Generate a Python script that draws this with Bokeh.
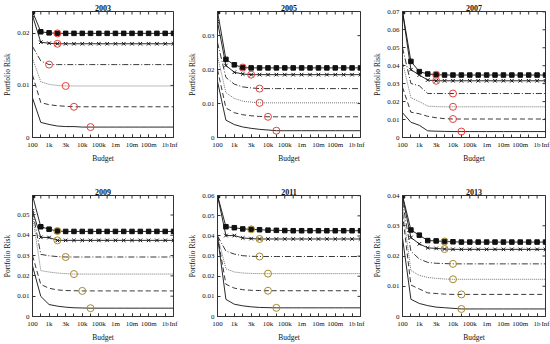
import math
from bokeh.plotting import figure
from bokeh.layouts import column, row
from bokeh.models import Range1d, FixedTicker
from bokeh.embed import file_html
from bokeh.resources import INLINE

# ---------------- data ----------------
budget_labels = ["100", "", "1k", "", "3k", "", "10k", "", "100k", "", "1m", "", "10m", "", "100m", "", "1b", "Inf"]
years = ["2003", "2005", "2007", "2009", "2011", "2013"]

r2003_a = [0.0242, 0.0203, 0.0201, 0.0200, 0.0200, 0.0200, 0.0200, 0.0200, 0.0200, 0.0200, 0.0200, 0.0200, 0.0200, 0.0200, 0.0200, 0.0200, 0.0200, 0.0200]
r2003_b = [0.0234, 0.0183, 0.0181, 0.0180, 0.0180, 0.0180, 0.0180, 0.0180, 0.0180, 0.0180, 0.0180, 0.0180, 0.0180, 0.0180, 0.0180, 0.0180, 0.0180, 0.0180]
r2003_c = [0.0175, 0.0147, 0.0140, 0.0140, 0.0140, 0.0140, 0.0140, 0.0140, 0.0140, 0.0140, 0.0140, 0.0140, 0.0140, 0.0140, 0.0140, 0.0140, 0.0140, 0.0140]
r2003_d = [0.0152, 0.0107, 0.0102, 0.0100, 0.0099, 0.0099, 0.0099, 0.0099, 0.0099, 0.0099, 0.0099, 0.0099, 0.0099, 0.0099, 0.0099, 0.0099, 0.0099, 0.0099]
r2003_e = [0.0120, 0.0067, 0.0063, 0.0061, 0.0060, 0.0059, 0.0059, 0.0059, 0.0059, 0.0059, 0.0059, 0.0059, 0.0059, 0.0059, 0.0059, 0.0059, 0.0059, 0.0059]
r2003_f = [0.0076, 0.0029, 0.0025, 0.0022, 0.0021, 0.0021, 0.0020, 0.0020, 0.0020, 0.0020, 0.0020, 0.0020, 0.0020, 0.0020, 0.0020, 0.0020, 0.0020, 0.0020]

r2005_a = [0.0371, 0.0230, 0.0214, 0.0206, 0.0205, 0.0205, 0.0205, 0.0205, 0.0205, 0.0205, 0.0205, 0.0205, 0.0205, 0.0205, 0.0205, 0.0205, 0.0205, 0.0205]
r2005_b = [0.0341, 0.0212, 0.0192, 0.0187, 0.0185, 0.0185, 0.0185, 0.0185, 0.0185, 0.0185, 0.0185, 0.0185, 0.0185, 0.0185, 0.0185, 0.0185, 0.0185, 0.0185]
r2005_c = [0.0280, 0.0177, 0.0157, 0.0149, 0.0146, 0.0144, 0.0144, 0.0144, 0.0144, 0.0144, 0.0144, 0.0144, 0.0144, 0.0144, 0.0144, 0.0144, 0.0144, 0.0144]
r2005_d = [0.0240, 0.0132, 0.0115, 0.0107, 0.0104, 0.0102, 0.0102, 0.0102, 0.0102, 0.0102, 0.0102, 0.0102, 0.0102, 0.0102, 0.0102, 0.0102, 0.0102, 0.0102]
r2005_e = [0.0200, 0.0087, 0.0073, 0.0067, 0.0064, 0.0062, 0.0061, 0.0061, 0.0061, 0.0061, 0.0061, 0.0061, 0.0061, 0.0061, 0.0061, 0.0061, 0.0061, 0.0061]
r2005_f = [0.0165, 0.0051, 0.0038, 0.0031, 0.0027, 0.0024, 0.0022, 0.0020, 0.0020, 0.0020, 0.0020, 0.0020, 0.0020, 0.0020, 0.0020, 0.0020, 0.0020, 0.0020]

r2007_a = [0.0702, 0.0424, 0.0367, 0.0354, 0.0350, 0.0348, 0.0348, 0.0348, 0.0348, 0.0348, 0.0348, 0.0348, 0.0348, 0.0348, 0.0348, 0.0348, 0.0348, 0.0348]
r2007_b = [0.0702, 0.0378, 0.0348, 0.0320, 0.0316, 0.0316, 0.0316, 0.0316, 0.0316, 0.0316, 0.0316, 0.0316, 0.0316, 0.0316, 0.0316, 0.0316, 0.0316, 0.0316]
r2007_c = [0.0500, 0.0301, 0.0288, 0.0245, 0.0245, 0.0245, 0.0245, 0.0245, 0.0245, 0.0245, 0.0245, 0.0245, 0.0245, 0.0245, 0.0245, 0.0245, 0.0245, 0.0245]
r2007_d = [0.0420, 0.0222, 0.0200, 0.0175, 0.0172, 0.0171, 0.0171, 0.0171, 0.0171, 0.0171, 0.0171, 0.0171, 0.0171, 0.0171, 0.0171, 0.0171, 0.0171, 0.0171]
r2007_e = [0.0280, 0.0141, 0.0132, 0.0118, 0.0110, 0.0105, 0.0103, 0.0103, 0.0103, 0.0103, 0.0103, 0.0103, 0.0103, 0.0103, 0.0103, 0.0103, 0.0103, 0.0103]
r2007_f = [0.0138, 0.0085, 0.0068, 0.0037, 0.0035, 0.0034, 0.0033, 0.0033, 0.0033, 0.0033, 0.0033, 0.0033, 0.0033, 0.0033, 0.0033, 0.0033, 0.0033, 0.0033]

r2009_a = [0.0596, 0.0442, 0.0430, 0.0421, 0.0419, 0.0419, 0.0419, 0.0419, 0.0419, 0.0419, 0.0419, 0.0419, 0.0419, 0.0419, 0.0419, 0.0419, 0.0419, 0.0419]
r2009_b = [0.0521, 0.0390, 0.0389, 0.0375, 0.0375, 0.0375, 0.0375, 0.0375, 0.0375, 0.0375, 0.0375, 0.0375, 0.0375, 0.0375, 0.0375, 0.0375, 0.0375, 0.0375]
r2009_c = [0.0520, 0.0306, 0.0299, 0.0295, 0.0293, 0.0293, 0.0293, 0.0293, 0.0293, 0.0293, 0.0293, 0.0293, 0.0293, 0.0293, 0.0293, 0.0293, 0.0293, 0.0293]
r2009_d = [0.0500, 0.0226, 0.0219, 0.0214, 0.0211, 0.0209, 0.0209, 0.0209, 0.0209, 0.0209, 0.0209, 0.0209, 0.0209, 0.0209, 0.0209, 0.0209, 0.0209, 0.0209]
r2009_e = [0.0300, 0.0158, 0.0139, 0.0131, 0.0128, 0.0127, 0.0126, 0.0126, 0.0126, 0.0126, 0.0126, 0.0126, 0.0126, 0.0126, 0.0126, 0.0126, 0.0126, 0.0126]
r2009_f = [0.0250, 0.0099, 0.0059, 0.0051, 0.0046, 0.0043, 0.0042, 0.0041, 0.0041, 0.0041, 0.0041, 0.0041, 0.0041, 0.0041, 0.0041, 0.0041, 0.0041, 0.0041]

r2011_a = [0.0601, 0.0446, 0.0441, 0.0435, 0.0433, 0.0431, 0.0429, 0.0428, 0.0427, 0.0426, 0.0426, 0.0426, 0.0426, 0.0426, 0.0426, 0.0426, 0.0426, 0.0426]
r2011_b = [0.0601, 0.0402, 0.0402, 0.0390, 0.0387, 0.0385, 0.0385, 0.0385, 0.0385, 0.0385, 0.0385, 0.0385, 0.0385, 0.0385, 0.0385, 0.0385, 0.0385, 0.0385]
r2011_c = [0.0400, 0.0325, 0.0310, 0.0302, 0.0299, 0.0298, 0.0298, 0.0298, 0.0298, 0.0298, 0.0298, 0.0298, 0.0298, 0.0298, 0.0298, 0.0298, 0.0298, 0.0298]
r2011_d = [0.0400, 0.0237, 0.0221, 0.0216, 0.0214, 0.0213, 0.0213, 0.0213, 0.0213, 0.0213, 0.0213, 0.0213, 0.0213, 0.0213, 0.0213, 0.0213, 0.0213, 0.0213]
r2011_e = [0.0400, 0.0160, 0.0141, 0.0133, 0.0130, 0.0129, 0.0128, 0.0128, 0.0128, 0.0128, 0.0128, 0.0128, 0.0128, 0.0128, 0.0128, 0.0128, 0.0128, 0.0128]
r2011_f = [0.0398, 0.0085, 0.0061, 0.0053, 0.0048, 0.0045, 0.0044, 0.0043, 0.0043, 0.0043, 0.0043, 0.0043, 0.0043, 0.0043, 0.0043, 0.0043, 0.0043, 0.0043]

r2013_a = [0.0400, 0.0286, 0.0269, 0.0251, 0.0250, 0.0248, 0.0247, 0.0246, 0.0246, 0.0246, 0.0246, 0.0246, 0.0246, 0.0246, 0.0246, 0.0246, 0.0246, 0.0246]
r2013_b = [0.0395, 0.0261, 0.0240, 0.0227, 0.0225, 0.0223, 0.0222, 0.0222, 0.0222, 0.0222, 0.0222, 0.0222, 0.0222, 0.0222, 0.0222, 0.0222, 0.0222, 0.0222]
r2013_c = [0.0380, 0.0216, 0.0190, 0.0179, 0.0176, 0.0175, 0.0174, 0.0174, 0.0174, 0.0174, 0.0174, 0.0174, 0.0174, 0.0174, 0.0174, 0.0174, 0.0174, 0.0174]
r2013_d = [0.0360, 0.0152, 0.0136, 0.0129, 0.0126, 0.0124, 0.0123, 0.0123, 0.0123, 0.0123, 0.0123, 0.0123, 0.0123, 0.0123, 0.0123, 0.0123, 0.0123, 0.0123]
r2013_e = [0.0340, 0.0104, 0.0091, 0.0078, 0.0076, 0.0074, 0.0073, 0.0073, 0.0073, 0.0073, 0.0073, 0.0073, 0.0073, 0.0073, 0.0073, 0.0073, 0.0073, 0.0073]
r2013_f = [0.0260, 0.0057, 0.0043, 0.0036, 0.0031, 0.0029, 0.0027, 0.0025, 0.0025, 0.0025, 0.0025, 0.0025, 0.0025, 0.0025, 0.0025, 0.0025, 0.0025, 0.0025]

# index (into budget_labels) of the highlighted point on each series
opt_2003 = [3, 3, 2, 4, 5, 7]
opt_2005 = [3, 4, 5, 5, 6, 7]
opt_2007 = [4, 4, 6, 6, 6, 7]
opt_2009 = [3, 3, 4, 5, 6, 7]
opt_2011 = [4, 5, 5, 6, 6, 7]
opt_2013 = [5, 5, 6, 6, 7, 7]

yticks_2003 = [0, 0.01, 0.02]
yticks_2005 = [0, 0.01, 0.02, 0.03]
yticks_2007 = [0, 0.01, 0.02, 0.03, 0.04, 0.05, 0.06, 0.07]
yticks_2009 = [0, 0.01, 0.02, 0.03, 0.04, 0.05]
yticks_2011 = [0, 0.01, 0.02, 0.03, 0.04, 0.05, 0.06]
yticks_2013 = [0, 0.01, 0.02, 0.03, 0.04]

panels = {
    "2003": ([r2003_a, r2003_b, r2003_c, r2003_d, r2003_e, r2003_f], opt_2003, yticks_2003),
    "2005": ([r2005_a, r2005_b, r2005_c, r2005_d, r2005_e, r2005_f], opt_2005, yticks_2005),
    "2007": ([r2007_a, r2007_b, r2007_c, r2007_d, r2007_e, r2007_f], opt_2007, yticks_2007),
    "2009": ([r2009_a, r2009_b, r2009_c, r2009_d, r2009_e, r2009_f], opt_2009, yticks_2009),
    "2011": ([r2011_a, r2011_b, r2011_c, r2011_d, r2011_e, r2011_f], opt_2011, yticks_2011),
    "2013": ([r2013_a, r2013_b, r2013_c, r2013_d, r2013_e, r2013_f], opt_2013, yticks_2013),
}

# ---------------- style ----------------
SERIF = "Liberation Serif"
FRAME = "#333333"
line_styles = [("#111111", "solid"), ("#111111", "solid"), ("#222222", "6 2 1 2"),
               ("#666666", "1 1"), ("#222222", "5 3"), ("#111111", "solid")]
circle_colors = ["#e8413c", "#e8413c", "#e8413c", "#a88a2a", "#a88a2a", "#a88a2a"]

col_w = [185, 185, 180]
col_left = [27, 27, 27]
col_right = [12, 10, 5]
row_h = [172, 172]
row_top = [11, 23]
row_bottom = [35, 24]


def make_panel(k, year):
    series, opt, yticks = panels[year]
    c, r = k % 3, k // 3
    n = len(budget_labels)
    xs = list(range(n))
    ymax = max(max(s) for s in series)
    p = figure(width=col_w[c], height=row_h[r], output_backend="svg", toolbar_location=None,
               x_range=Range1d(0, n - 1), y_range=Range1d(0, ymax),
               min_border_left=col_left[c], min_border_right=col_right[c],
               min_border_top=row_top[r], min_border_bottom=row_bottom[r])
    p.title.text = year
    p.title.align = "center"
    p.title.text_font = SERIF
    p.title.text_font_size = "8px"
    p.title.text_font_style = "bold"
    p.title.text_color = "#111111"
    p.title.standoff = 1
    p.grid.visible = False
    p.outline_line_color = FRAME
    p.background_fill_color = "white"
    p.border_fill_color = "white"

    labelled = [i for i, lab in enumerate(budget_labels) if lab]
    p.xaxis.ticker = FixedTicker(ticks=labelled, minor_ticks=xs)
    p.xaxis.major_label_overrides = {i: budget_labels[i] for i in labelled}
    p.yaxis.ticker = FixedTicker(ticks=yticks)
    p.yaxis.major_label_overrides = {0: "0"}
    p.xaxis.axis_label = "Budget"
    p.yaxis.axis_label = "Portfolio Risk"
    for ax in (p.xaxis[0], p.yaxis[0]):
        ax.major_label_text_font = SERIF
        ax.major_label_text_font_size = "7px"
        ax.axis_label_text_font = SERIF
        ax.axis_label_text_font_size = "7.5px"
        ax.axis_label_text_font_style = "normal"
        ax.axis_label_text_color = "#111111"
        ax.major_label_text_color = "#111111"
        ax.major_tick_in = 3
        ax.major_tick_out = 0
        ax.minor_tick_in = 3
        ax.minor_tick_out = 0
        ax.minor_tick_line_color = FRAME
        ax.axis_line_color = FRAME
        ax.major_tick_line_color = FRAME
        ax.major_label_standoff = 3
        ax.axis_label_standoff = 2
    p.yaxis.minor_tick_line_color = None

    # tick marks on the top and right frame edges (half of each dash is clipped by the frame)
    p.scatter(xs, [ymax] * n, marker="dash", angle=math.pi / 2, size=6, line_color=FRAME, line_width=1)
    p.scatter([n - 1] * len(yticks), yticks, marker="dash", size=6, line_color=FRAME, line_width=1)

    for i, s in enumerate(series):
        color, dash = line_styles[i]
        p.line(xs, s, line_color=color, line_dash=dash, line_width=0.9)
        if i == 0:
            p.scatter(xs, s, marker="square", size=4.5, fill_color="#111111", line_color="#111111")
        elif i == 1:
            p.scatter(xs, s, marker="x", size=5, line_color="#111111", line_width=1)
    for i, s in enumerate(series):
        j = opt[i]
        p.scatter([xs[j]], [s[j]], marker="circle", size=7, fill_color=None,
                  line_color=circle_colors[k], line_width=1)
    return p


figs = [make_panel(k, y) for k, y in enumerate(years)]
layout = column(row(figs[0], figs[1], figs[2]), row(figs[3], figs[4], figs[5]))
open("out.html", "w").write(file_html(layout, INLINE))
